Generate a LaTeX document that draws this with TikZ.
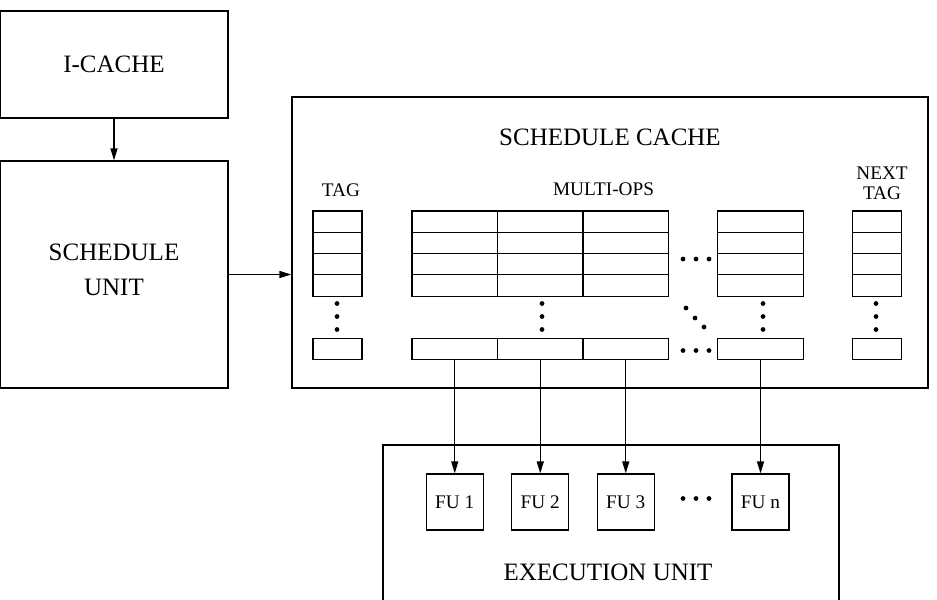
\documentclass[tikz,border=0pt]{standalone}
\usepackage{fontspec}
\setmainfont{Liberation Serif}
\usetikzlibrary{arrows.meta}

\tikzset{
    box/.style={draw, line width=0.5pt, inner sep=0pt, align=center},
    cell/.style={draw, line width=0.5pt, inner sep=0pt, minimum width=85.5*0.4pt, minimum height=21.3*0.4pt},
    tagcell/.style={cell, minimum width=49*0.4pt},
    fubox/.style={box, minimum width=57*0.4pt, minimum height=56*0.4pt, font=\fontsize{7.7}{9}\selectfont},
    small/.style={font=\fontsize{7.7}{9}\selectfont, align=center},
    feed/.style={-{Triangle[length=4.8pt,width=2.8pt]}, line width=0.5pt}
}

\begin{document}
\begin{tikzpicture}[x=0.4pt, y=-0.4pt]
    \useasboundingbox (0,0) rectangle (937,599);

    % front end
    \node[box, minimum width=228*0.4pt, minimum height=107*0.4pt] (icache) at (114,64.5) {I-CACHE};
    \node[box, minimum width=228*0.4pt, minimum height=227*0.4pt] (sunit) at (114,274.5) {};
    \node[align=center] (sulbl) at (114,270) {SCHEDULE\\[1.8pt]UNIT};
    \draw[feed] (icache) -- (sunit);

    % schedule cache
    \node[box, minimum width=636*0.4pt, minimum height=291*0.4pt] (scache) at (610,242.5) {};
    \node (sctitle) at (610,137) {SCHEDULE CACHE};
    \draw[feed] (sunit.east) -- (sunit.east -| scache.west);

    \node[small] (taglbl) at (341,190) {TAG};
    \node[small] (opslbl) at (603.5,189) {MULTI-OPS};
    \node[small] (nextlbl) at (882,183) {NEXT\\[-1pt]TAG};

    \foreach \r [evaluate=\r as \y using 221.6+21.3*\r] in {0,...,3} {
        \node[tagcell] (tag\r) at (337.5,\y) {};
        \foreach \c/\x in {1/454.75,2/540.25,3/625.75}
            \node[cell] (op\c\r) at (\x,\y) {};
        \node[cell] (opn\r) at (760.5,\y) {};
        \node[tagcell] (next\r) at (877,\y) {};
    }
    \node[tagcell] (tagb) at (337.5,349) {};
    \foreach \c/\x in {1/454.75,2/540.25,3/625.75}
        \node[cell] (opb\c) at (\x,349) {};
    \node[cell] (opbn) at (760.5,349) {};
    \node[tagcell] (nextb) at (877,349) {};

    % dots
    \foreach \x in {337,542,763,876}
        \foreach \y in {303.5,316.5,329.5}
            \fill (\x,\y) circle (0.95pt);
    \foreach \x in {683,696,709} {
        \fill (\x,259) circle (0.95pt);
        \fill (\x,350.5) circle (0.95pt);
        \fill (\x,498.5) circle (0.95pt);
    }
    \fill (686,308) circle (0.95pt);
    \fill (695,318) circle (0.95pt);
    \fill (704,327) circle (0.95pt);

    % execution unit
    \node[box, minimum width=456*0.4pt, minimum height=170*0.4pt] (exec) at (611,530) {};
    \node (execlbl) at (608,572) {EXECUTION UNIT};
    \node[fubox] (fu1) at (454.75,502) {FU 1};
    \node[fubox] (fu2) at (540.25,502) {FU 2};
    \node[fubox] (fu3) at (625.75,502) {FU 3};
    \node[fubox] (fun) at (760.5,502) {FU n};

    \draw[feed] (opb1) -- (fu1);
    \draw[feed] (opb2) -- (fu2);
    \draw[feed] (opb3) -- (fu3);
    \draw[feed] (opbn) -- (fun);
\end{tikzpicture}
\end{document}
